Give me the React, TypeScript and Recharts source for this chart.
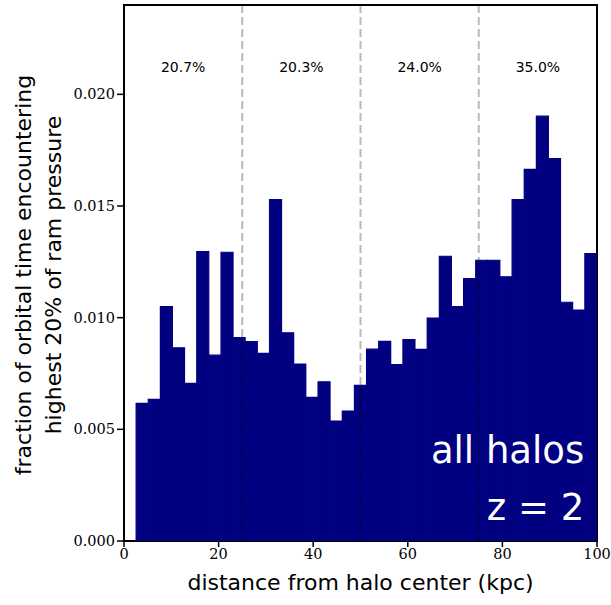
import React from 'react';
import {
    ComposedChart, Bar, XAxis, YAxis, ReferenceLine, ReferenceDot, ReferenceArea
} from 'recharts';

/* radial histogram of time spent in the top 20% of ram pressure */
const BIN_COUNT = 39;
const BIN_WIDTH = 100 / BIN_COUNT;

// normalised fraction per kpc, one value per bin from 0 to 100 kpc
const fractions = [
    0.0, 0.00616, 0.00634, 0.0105, 0.00865, 0.00706, 0.01296, 0.00832, 0.01293, 0.00911,
    0.00893, 0.0084, 0.01529, 0.00932, 0.00792, 0.00643, 0.00713, 0.00537, 0.00582, 0.00697,
    0.00859, 0.00894, 0.0079, 0.00902, 0.00858, 0.00998, 0.01275, 0.0105, 0.01175, 0.01257,
    0.01257, 0.01183, 0.01529, 0.01664, 0.01902, 0.01712, 0.01069, 0.01034, 0.01287,
];

const xTicks = [0, 20, 40, 60, 80, 100];
const yTicks = [0, 0.005, 0.01, 0.015, 0.02];

// quarter boundaries and the share of time inside each quarter
const quarterEdges = [25, 50, 75];
const quarterCenters = [12.5, 37.5, 62.5, 87.5];
const quarterShares = ['20.7%', '20.3%', '24.0%', '35.0%'];

const histData = fractions.map((f, i) => ({ r: (i + 0.5) * BIN_WIDTH, f }));

const SANS = '"DejaVu Sans", sans-serif';
const SERIF = '"DejaVu Serif", serif';
const NAVY = '#000080';

const textLabel = (text: string, size: number, fill: string, anchor: string) =>
    (props: any) => {
        const vb = props.viewBox || {};
        return (
            <text x={vb.x} y={vb.y} fill={fill} fontSize={size} fontFamily={SANS}
                textAnchor={anchor} dominantBaseline="alphabetic">
                {text}
            </text>
        );
    };

const YTitle = () => (
    <g fontFamily={SANS} fontSize={22} fill="#000" textAnchor="middle">
        <text x={31} y={275} transform="rotate(-90, 31, 275)">fraction of orbital time encountering</text>
        <text x={61} y={275} transform="rotate(-90, 61, 275)">highest 20% of ram pressure</text>
    </g>
);

const XTitle = (props: any) => {
    const vb = props.viewBox || {};
    return (
        <text x={vb.x + vb.width / 2} y={590} fontFamily={SANS} fontSize={22}
            fill="#000" textAnchor="middle">
            distance from halo center (kpc)
        </text>
    );
};

export default function App() {
    return (
        <div style={{ position: 'absolute', left: 0, top: 0, width: 611, height: 605, background: '#fff' }}>
            <ComposedChart
                width={611}
                height={605}
                data={histData}
                margin={{ top: 5, right: 14, left: 0, bottom: 0 }}
                barCategoryGap={0}
                barGap={0}
            >
                <XAxis
                    dataKey="r"
                    type="number"
                    domain={[0, 100]}
                    ticks={xTicks}
                    allowDataOverflow
                    height={64}
                    axisLine={false}
                    tickLine={{ stroke: '#000', strokeWidth: 1.5 }}
                    tickSize={6}
                    tick={{ fill: '#000', fontSize: 14.5, fontFamily: SERIF }}
                    label={<XTitle />}
                />
                <YAxis
                    type="number"
                    domain={[0, 0.024]}
                    ticks={yTicks}
                    allowDataOverflow
                    width={124}
                    axisLine={false}
                    tickLine={{ stroke: '#000', strokeWidth: 1.5 }}
                    tickSize={7}
                    tick={{ fill: '#000', fontSize: 14.5, fontFamily: SERIF }}
                    tickFormatter={(v: number) => v.toFixed(3)}
                    label={<YTitle />}
                />
                <Bar dataKey="f" fill={NAVY} stroke={NAVY} strokeWidth={1.2} isAnimationActive={false} />
                {quarterEdges.map((x) => (
                    <ReferenceLine
                        key={`edge-${x}`}
                        x={x}
                        stroke="#000"
                        strokeOpacity={0.27}
                        strokeWidth={2}
                        strokeDasharray="8 4"
                        zIndex={700}
                    />
                ))}
                {quarterCenters.map((x, i) => (
                    <ReferenceDot
                        key={`share-${x}`}
                        x={x}
                        y={0.021}
                        r={0}
                        fill="none"
                        stroke="none"
                        label={textLabel(quarterShares[i], 14, '#000', 'middle')}
                    />
                ))}
                <ReferenceDot x={97.3} y={0.0035} r={0} fill="none" stroke="none"
                    label={textLabel('all halos', 37, '#fff', 'end')} />
                <ReferenceDot x={97.3} y={0.00093} r={0} fill="none" stroke="none"
                    label={textLabel('z = 2', 37, '#fff', 'end')} />
                <ReferenceArea x1={0} x2={100} y1={0} y2={0.024}
                    fill="none" stroke="#000" strokeWidth={2} fillOpacity={0} />
            </ComposedChart>
        </div>
    );
}
